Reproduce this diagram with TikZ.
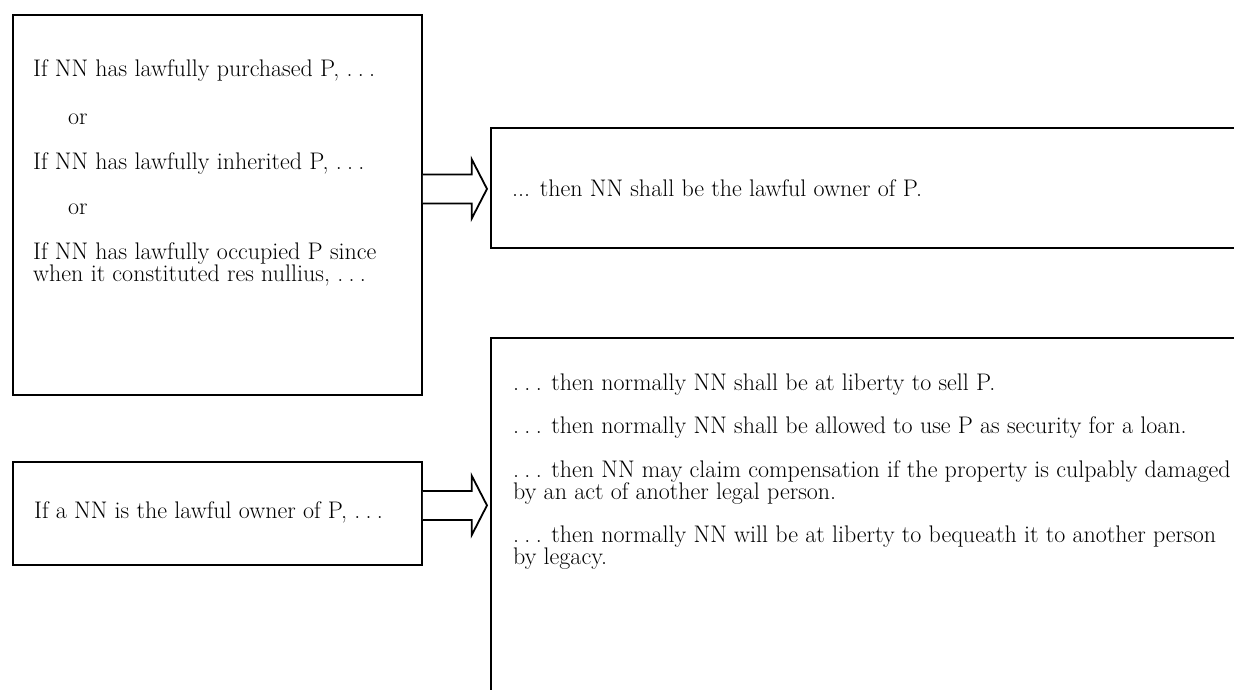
\documentclass[tikz,border=0pt]{standalone}
\usepackage{fontspec}
\usetikzlibrary{calc}
\newcommand\wideell{.\kern0.22em.\kern0.22em.}
\begin{document}
\begin{tikzpicture}[x=1pt,y=-1pt,
  box/.style={draw,line width=1.8pt,rectangle,inner sep=0pt,anchor=north west},
  txt/.style={anchor=base west,inner sep=0pt,font=\fontsize{24}{24}\selectfont},
  blockarrow/.style={draw,line width=1.8pt,fill=white,line join=miter}]
\clip (0,0) rectangle (1234,689);
\fill[white] (0,0) rectangle (1234,689);
% boxes
\node[box,minimum width=409pt,minimum height=380pt] (b1) at (12,14) {};
\node[box,minimum width=780pt,minimum height=120pt] (b2) at (490,127) {};
\node[box,minimum width=780pt,minimum height=420pt] (b3) at (490,337) {};
\node[box,minimum width=409pt,minimum height=103pt] (b4) at (12,461) {};
% texts box 1
\node[txt] (t11) at (33,76) {If NN has lawfully purchased P, \wideell};
\node[txt] (t12) at (68,124) {or};
\node[txt] (t13) at (33,169) {If NN has lawfully inherited P, \wideell};
\node[txt] (t14) at (68,214) {or};
\node[txt] (t15) at (33,259) {If NN has lawfully occupied P since};
\node[txt] (t16) at (33,281) {when it constituted res nullius, \wideell};
% text box 2
\node[txt] (t21) at (512,196) {... then NN shall be the lawful owner of P.};
% text box 4
\node[txt] (t41) at (34,518) {If a NN is the lawful owner of P, \wideell};
% texts box 3
\node[txt] (t31) at (513,390) {\wideell{} then normally NN shall be at liberty to sell P.};
\node[txt] (t32) at (513,433) {\wideell{} then normally NN shall be allowed to use P as security for a loan.};
\node[txt] (t33) at (513,477) {\wideell{} then NN may claim compensation if the property is culpably damaged};
\node[txt] (t34) at (513,499) {by an act of another legal person.};
\node[txt] (t35) at (513,542) {\wideell{} then normally NN will be at liberty to bequeath it to another person};
\node[txt] (t36) at (513,564) {by legacy.};
% block arrows
\coordinate (a1) at ($(b1.east |- b2.west)+(0,1)$);
\coordinate (a1t) at ($(b2.west |- a1)+(-3,0)$);
\draw[blockarrow] ($(a1)+(0,-14.5)$) -- ($(a1)+(49,-14.5)$) -- ($(a1)+(49,-29.5)$)
  -- (a1t) -- ($(a1)+(49,29.5)$) -- ($(a1)+(49,14.5)$) -- ($(a1)+(0,14.5)$);
\coordinate (a2) at ($(b4.east)+(0,-8)$);
\coordinate (a2t) at ($(b3.west |- a2)+(-3,0)$);
\draw[blockarrow] ($(a2)+(0,-14.5)$) -- ($(a2)+(49,-14.5)$) -- ($(a2)+(49,-29.5)$)
  -- (a2t) -- ($(a2)+(49,29.5)$) -- ($(a2)+(49,14.5)$) -- ($(a2)+(0,14.5)$);
\end{tikzpicture}
\end{document}
